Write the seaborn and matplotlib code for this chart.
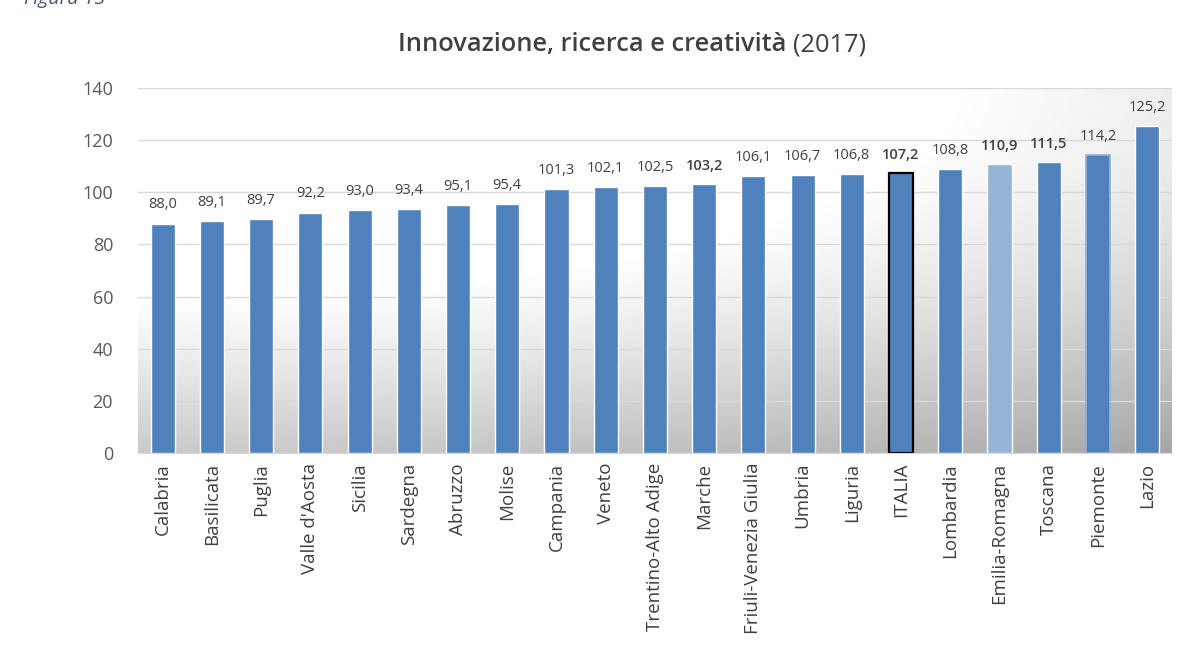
import seaborn as sns
import matplotlib.pyplot as plt
import numpy as np

# data
regions = ["Calabria", "Basilicata", "Puglia", "Valle d'Aosta", "Sicilia", "Sardegna",
           "Abruzzo", "Molise", "Campania", "Veneto", "Trentino-Alto Adige", "Marche",
           "Friuli-Venezia Giulia", "Umbria", "Liguria", "ITALIA", "Lombardia",
           "Emilia-Romagna", "Toscana", "Piemonte", "Lazio"]
values = [88.0, 89.1, 89.7, 92.2, 93.0, 93.4, 95.1, 95.4, 101.3, 102.1, 102.5, 103.2,
          106.1, 106.7, 106.8, 107.2, 108.8, 110.9, 111.5, 114.2, 125.2]
bold_labels = ["ITALIA", "Emilia-Romagna", "Marche", "Toscana"]
y_ticks = [0, 20, 40, 60, 80, 100, 120, 140]

sns.set_style("white")
plt.rcParams["font.family"] = ["Open Sans", "DejaVu Sans"]

BLUE = "#4F81BD"
LIGHT = "#95B3D7"
colors = {r: (LIGHT if r == "Emilia-Romagna" else BLUE) for r in regions}

fig = plt.figure(figsize=(11.8, 6.55), dpi=100)
ax = fig.add_axes([0.117, 0.308, 0.876, 0.558])

# radial grey background, white in the top-left corner
gx, gy = np.meshgrid(np.linspace(0, 1, 400), np.linspace(0, 1, 200))
d = np.sqrt((gx / 0.78) ** 2 + (gy / 0.57) ** 2)
shade = 1 - 0.35 * np.clip((d - 1) / 1.17, 0, 1) ** 1.15
ax.imshow(shade, extent=[0, 1, 0, 1], origin="upper", transform=ax.transAxes,
          cmap="gray", vmin=0, vmax=1, aspect="auto", zorder=0)

sns.barplot(x=regions, y=values, hue=regions, palette=colors, legend=False,
            width=0.49, saturation=1, ax=ax, zorder=3)

for i, r in enumerate(regions):
    p = ax.patches[i]
    if r == "ITALIA":
        p.set_edgecolor("black")
        p.set_linewidth(1.6)
    elif r == "Piemonte":
        p.set_edgecolor(LIGHT)
        p.set_linewidth(1.2)

for cont, r, v in zip(ax.containers, regions, values):
    txt = ax.bar_label(cont, labels=[f"{v:.1f}".replace(".", ",")], padding=8,
                       fontsize=10.5, color="#404040")
    if r in bold_labels:
        txt[0].set_fontweight("semibold")

ax.set_xlim(-0.5, len(regions) - 0.5)
ax.set_ylim(0, 140)
ax.set_yticks(y_ticks)
ax.yaxis.grid(True, color="#d9d9d9", linewidth=1, zorder=1)
ax.set_axisbelow(True)
ax.tick_params(axis="y", labelsize=13, labelcolor="#595959", length=0, pad=18)
ax.tick_params(axis="x", labelsize=13.5, labelcolor="#404040", length=0, pad=7,
               labelrotation=90)
for side in ["left", "right", "top"]:
    ax.spines[side].set_visible(False)
ax.spines["bottom"].set_color("#d9d9d9")

# title: bold part plus normal year
fig.text(0.672, 0.932, "Innovazione, ricerca e creatività ", ha="right", va="center",
         fontsize=18.3, fontweight="semibold", color="#404040")
fig.text(0.672, 0.932, "(2017)", ha="left", va="center", fontsize=18.3, color="#404040")

fig.text(0.02, 1 - 4 / 655, "Figura 15", ha="left", va="baseline", fontsize=14,
         style="italic", color="#44546A")

fig.savefig("out.png", dpi=100)
plt.close(fig)
